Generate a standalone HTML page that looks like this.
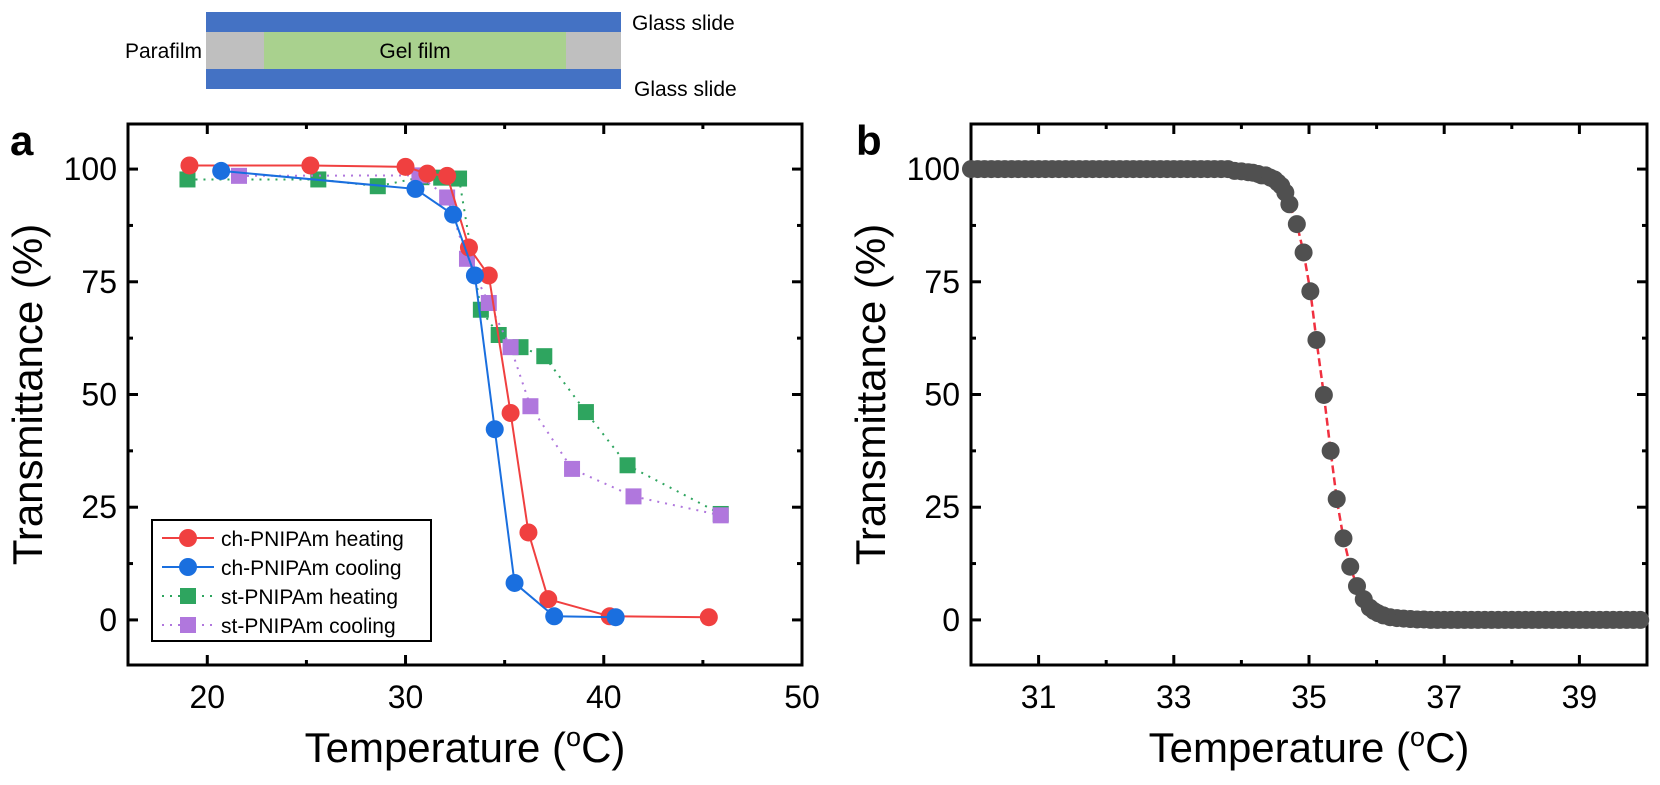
<!DOCTYPE html>
<html><head><meta charset="utf-8"><style>
body{margin:0;background:#fff;}
svg{display:block;font-family:"Liberation Sans",Arial,sans-serif;}
</style></head><body>
<svg id="fig" width="1660" height="785" viewBox="0 0 1660 785">
<g>
<rect x="206" y="12" width="415" height="20" fill="#4472c4"/>
<rect x="206" y="32" width="415" height="37" fill="#bfbfbf"/>
<rect x="264" y="32" width="302" height="37" fill="#a9d18e"/>
<rect x="206" y="69" width="415" height="20" fill="#4472c4"/>
<text x="415" y="58" font-size="21" text-anchor="middle">Gel film</text>
<text x="202" y="58" font-size="21" text-anchor="end">Parafilm</text>
<text x="632" y="30" font-size="21">Glass slide</text>
<text x="634" y="96" font-size="21">Glass slide</text>
</g>
<text x="10" y="155" font-size="42" font-weight="bold">a</text>
<text x="856" y="155" font-size="42" font-weight="bold">b</text>
<g id="pa"></g>
<g id="pb"></g>
</svg>
<script>
// Panel a data
const aXTicks = [20, 30, 40, 50];
const aYTicks = [0, 25, 50, 75, 100];
const chHeatT = [19.1, 25.2, 30.0, 31.1, 32.1, 33.2, 34.2, 35.3, 36.2, 37.2, 40.3, 45.3];
const chHeatV = [100.8, 100.8, 100.5, 99.0, 98.5, 82.6, 76.4, 45.9, 19.4, 4.6, 0.8, 0.6];
const chCoolT = [20.7, 30.5, 32.4, 33.5, 34.5, 35.5, 37.5, 40.6];
const chCoolV = [99.6, 95.6, 89.9, 76.4, 42.3, 8.2, 0.8, 0.6];
const stHeatT = [19.0, 25.6, 28.6, 30.8, 31.8, 32.7, 33.8, 34.7, 35.8, 37.0, 39.1, 41.2, 45.9];
const stHeatV = [97.7, 97.7, 96.2, 98.2, 98.1, 97.9, 68.8, 63.2, 60.5, 58.5, 46.1, 34.3, 23.5];
const stCoolT = [21.6, 30.7, 32.1, 33.1, 34.2, 35.3, 36.3, 38.4, 41.5, 45.9];
const stCoolV = [98.5, 98.6, 93.7, 80.1, 70.3, 60.5, 47.4, 33.5, 27.4, 23.2];
// Panel b data
const bXTicks = [31, 33, 35, 37, 39];
const bYTicks = [0, 25, 50, 75, 100];
const bT = [30.0,30.1,30.2,30.3,30.4,30.5,30.6,30.7,30.8,30.9,31.0,31.1,31.2,31.3,31.4,31.5,31.6,31.7,31.8,31.9,32.0,32.1,32.2,32.3,32.4,32.5,32.6,32.7,32.8,32.9,33.0,33.1,33.2,33.3,33.4,33.5,33.6,33.7,33.8,33.9,34.0,34.1,34.17,34.25,34.3,34.36,34.43,34.49,34.54,34.59,34.65,34.71,34.82,34.92,35.02,35.11,35.22,35.32,35.41,35.51,35.61,35.71,35.81,35.9,35.96,36.02,36.1,36.2,36.3,36.4,36.5,36.6,36.7,36.8,36.9,37.0,37.1,37.2,37.3,37.4,37.5,37.6,37.7,37.8,37.9,38.0,38.1,38.2,38.3,38.4,38.5,38.6,38.7,38.8,38.9,39.0,39.1,39.2,39.3,39.4,39.5,39.6,39.7,39.8,39.9];
const bV = [100,100,100,100,100,100,100,100,100,100,100,100,100,100,100,100,100,100,100,100,100,100,100,100,100,100,100,100,100,100,100,100,100,100,100,100,100,100,100,99.6,99.5,99.3,99.2,98.9,98.6,98.6,98.1,97.7,97.0,96.3,94.8,92.2,87.8,81.5,72.9,62.1,49.9,37.5,26.8,18.1,11.8,7.5,4.6,2.7,2.0,1.5,1.0,0.6,0.4,0.3,0.2,0.1,0.1,0,0,0,0,0,0,0,0,0,0,0,0,0,0,0,0,0,0,0,0,0,0,0,0,0,0,0,0,0,0,0,0];

const NS = "http://www.w3.org/2000/svg";
function mk(parent, tag, attrs){const e=document.createElementNS(NS,tag);for(const k in attrs)e.setAttribute(k,attrs[k]);parent.appendChild(e);return e;}

function axes(g, L, R, T, B, xmin, xmax, ymin, ymax, xt, xminor, yt, yminor){
  const sx=v=>L+(v-xmin)/(xmax-xmin)*(R-L);
  const sy=v=>B-(v-ymin)/(ymax-ymin)*(B-T);
  xminor.forEach(v=>{
    const x=sx(v);
    let t=mk(g,'line',{x1:x,x2:x,y1:B,y2:B-5,stroke:'#000','stroke-width':3});
    
    
    t=mk(g,'line',{x1:x,x2:x,y1:T,y2:T+5,stroke:'#000','stroke-width':3});
    
    
  });
  xt.forEach(v=>{
    const x=sx(v);
    let t=mk(g,'line',{x1:x,x2:x,y1:B,y2:B-10,stroke:'#000','stroke-width':3});
    
    
    t=mk(g,'line',{x1:x,x2:x,y1:T,y2:T+10,stroke:'#000','stroke-width':3});
    
    
    const lb=mk(g,'text',{x:x,y:B+43,'font-size':32,'text-anchor':'middle'});
    lb.textContent=v;
    
    
  });
  yminor.forEach(v=>{
    const y=sy(v);
    let t=mk(g,'line',{x1:L,x2:L+5,y1:y,y2:y,stroke:'#000','stroke-width':3});
    
    
    t=mk(g,'line',{x1:R,x2:R-5,y1:y,y2:y,stroke:'#000','stroke-width':3});
    
    
  });
  yt.forEach(v=>{
    const y=sy(v);
    let t=mk(g,'line',{x1:L,x2:L+10,y1:y,y2:y,stroke:'#000','stroke-width':3});
    
    
    t=mk(g,'line',{x1:R,x2:R-10,y1:y,y2:y,stroke:'#000','stroke-width':3});
    
    
    const lb=mk(g,'text',{x:L-11,y:y+11,'font-size':32,'text-anchor':'end'});
    lb.textContent=v;
    
    
  });
  const fr=mk(g,'rect',{x:L,y:T,width:R-L,height:B-T,fill:'none',stroke:'#000','stroke-width':3});
  
  
  const xt2=mk(g,'text',{x:(L+R)/2,y:B+97,'font-size':42,'text-anchor':'middle'});
  xt2.innerHTML='Temperature (<tspan font-size="27" dy="-16">o</tspan><tspan dy="16">C)</tspan>';
  
  
  const yx=L-86, yy=(T+B)/2;
  const yt2=mk(g,'text',{x:yx,y:yy,'font-size':42,'text-anchor':'middle',transform:`rotate(-90 ${yx} ${yy})`});
  yt2.textContent='Transmittance (%)';
  
  
  return {sx,sy};
}

// Panel a
const ga=document.getElementById('pa');
const A=axes(ga,128,802,124,665,16,50,-10,110,aXTicks,[25,35,45],aYTicks,[12.5,37.5,62.5,87.5]);
function series(g,s,T,V,color,dash,shape,name){
  const pts=T.map((t,i)=>s.sx(t)+','+s.sy(V[i])).join(' ');
  const pl=mk(g,'polyline',{points:pts,fill:'none',stroke:color,'stroke-width':2,'stroke-dasharray':dash});
  
  
  T.forEach((t,i)=>{
    const x=s.sx(t),y=s.sy(V[i]);
    let m;
    if(shape==='c') m=mk(g,'circle',{cx:x,cy:y,r:9,fill:color});
    else m=mk(g,'rect',{x:x-8,y:y-8,width:16,height:16,fill:color});
    
    
  });
}
series(ga,A,stHeatT,stHeatV,'#2ea55f','2 6','s','st-heating');
series(ga,A,stCoolT,stCoolV,'#b077dd','2 6','s','st-cooling');
series(ga,A,chHeatT,chHeatV,'#f04040','','c','ch-heating');
series(ga,A,chCoolT,chCoolV,'#1a6fdf','','c','ch-cooling');

// legend
const lg=mk(ga,'g',{});


const lbx=mk(lg,'rect',{x:152,y:520,width:279,height:121,fill:'#fff',stroke:'#000','stroke-width':2});


const legNames=['ch-PNIPAm heating','ch-PNIPAm cooling','st-PNIPAm heating','st-PNIPAm cooling'];
const legCols=['#f04040','#1a6fdf','#2ea55f','#b077dd'];
legNames.forEach((n,i)=>{
  const y=538+i*29;
  const e=mk(lg,'g',{});
  
  
  mk(e,'line',{x1:162,x2:214,y1:y,y2:y,stroke:legCols[i],'stroke-width':2,'stroke-dasharray':i<2?'':'2 6'});
  if(i<2) mk(e,'circle',{cx:188,cy:y,r:9,fill:legCols[i]});
  else mk(e,'rect',{x:180,y:y-8,width:16,height:16,fill:legCols[i]});
  const t=mk(e,'text',{x:221,y:y+8,'font-size':21});
  t.textContent=n;
});

// Panel b
const gb=document.getElementById('pb');
const B=axes(gb,971,1647,124,665,30,40,-10,110,bXTicks,[32,34,36,38],bYTicks,[12.5,37.5,62.5,87.5]);
const fit=mk(gb,'polyline',{points:bT.map((t,i)=>B.sx(t)+','+B.sy(bV[i])).join(' '),fill:'none',stroke:'#f03040','stroke-width':2.5,'stroke-dasharray':'8 4'});


bT.forEach((t,i)=>{
  const c=mk(gb,'circle',{cx:B.sx(t),cy:B.sy(bV[i]),r:9,fill:'#505050'});
  
  
});
</script>
</body></html>
